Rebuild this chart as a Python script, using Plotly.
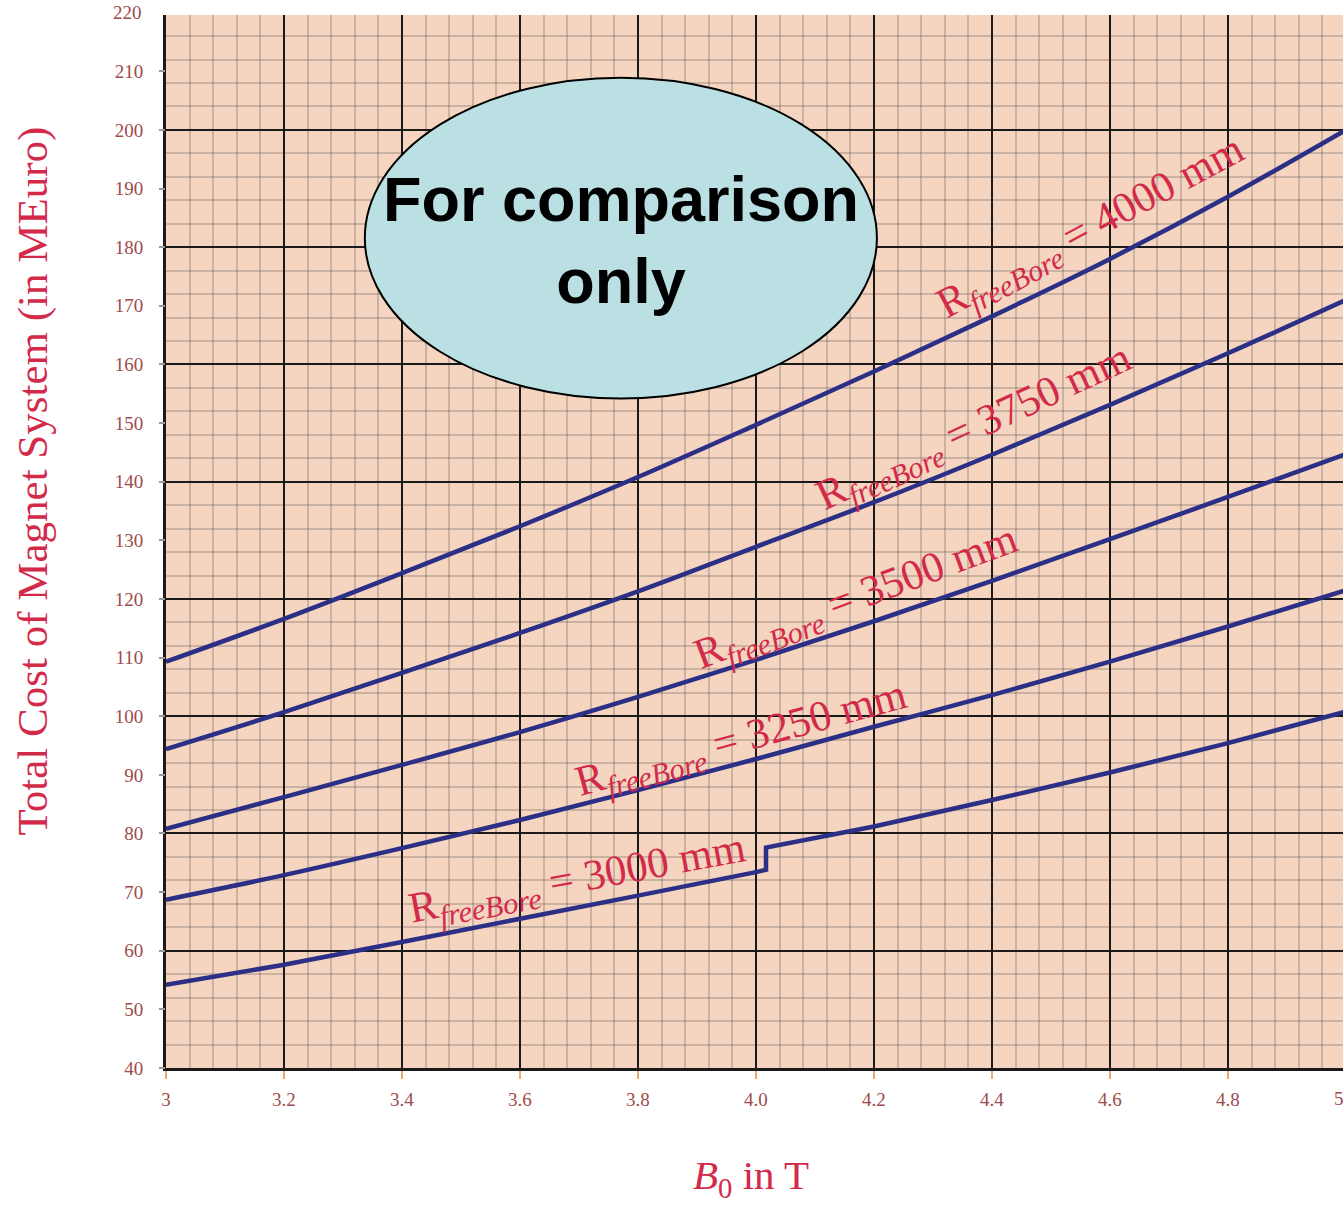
import plotly.graph_objects as go

# Magnetic field B0 (T) sample points
b0 = [3.0, 3.2, 3.4, 3.6, 3.8, 4.0, 4.2, 4.4, 4.6, 4.8, 5.0]

# Total cost of the magnet system (MEuro) per free-bore radius
cost_4000 = [109.3, 116.6, 124.4, 132.4, 140.8, 149.7, 158.8, 168.2, 178.0, 188.6, 200.0]
cost_3750 = [94.4, 100.7, 107.4, 114.2, 121.3, 128.9, 136.5, 144.6, 153.1, 161.9, 171.0]
cost_3500 = [80.8, 86.2, 91.7, 97.3, 103.3, 109.6, 116.2, 123.1, 130.2, 137.4, 144.7]
cost_3250 = [68.7, 72.9, 77.5, 82.3, 87.4, 92.7, 98.2, 103.6, 109.3, 115.3, 121.5]

# The 3000 mm curve has a step just above 4 T
b0_3000 = [3.0, 3.2, 3.4, 3.6, 3.8, 4.0, 4.017, 4.017, 4.2, 4.4, 4.6, 4.8, 5.0]
cost_3000 = [54.2, 57.6, 61.5, 65.4, 69.4, 73.4, 73.8, 77.6, 81.2, 85.7, 90.4, 95.4, 100.8]

# Curve labels: radius, anchor position and text angle
label_radius = [3000, 3250, 3500, 3750, 4000]
label_x = [3.697, 3.975, 4.171, 4.371, 4.568]
label_y = [71.9, 95.8, 120.0, 149.0, 183.1]
label_angle = [-10.5, -15.2, -20.5, -24.8, -28.2]

# Axis ranges and ticks
X_RANGE = [3.0, 4.995]
Y_RANGE = [40, 219.6]
x_tickvals = [3.0, 3.2, 3.4, 3.6, 3.8, 4.0, 4.2, 4.4, 4.6, 4.8]
x_ticktext = ["3", "3.2", "3.4", "3.6", "3.8", "4.0", "4.2", "4.4", "4.6", "4.8"]
y_tickvals = list(range(40, 220, 10))

LINE = "#2B2F85"
CRIMSON = "#D42A4A"
MINOR_GRID = "rgba(95,85,85,0.28)"
TICKFONT = dict(family="Liberation Serif", size=19, color="#9E4B4B")

fig = go.Figure()

curves = [
    (b0, cost_4000),
    (b0, cost_3750),
    (b0, cost_3500),
    (b0, cost_3250),
]
for xs, ys in curves:
    fig.add_trace(go.Scatter(x=xs, y=ys, mode="lines", line_shape="spline",
                             line=dict(color=LINE, width=4.5), showlegend=False,
                             hoverinfo="skip"))
fig.add_trace(go.Scatter(x=b0_3000, y=cost_3000, mode="lines",
                         line=dict(color=LINE, width=4.5), showlegend=False,
                         hoverinfo="skip"))

# Tick-label axis for the y values every 10 MEuro
fig.add_trace(go.Scatter(x=[None], y=[None], yaxis="y2", showlegend=False,
                         hoverinfo="skip"))

for r, lx, ly, ang in zip(label_radius, label_x, label_y, label_angle):
    fig.add_annotation(
        x=lx, y=ly, xref="x", yref="y",
        text=f"R<sub><i>freeBore</i></sub> = {r} mm",
        textangle=ang, showarrow=False,
        font=dict(family="Liberation Serif", size=43, color=CRIMSON),
    )

# Ellipse badge
fig.add_shape(type="circle", xref="x", yref="y",
              x0=3.337, x1=4.205, y0=154.2, y1=208.9,
              fillcolor="#BAE0E3", line=dict(color="black", width=2), layer="above")
fig.add_annotation(x=3.771, y=181.3, xref="x", yref="y", showarrow=False,
                   text="<b>For comparison<br>only</b>",
                   font=dict(family="Liberation Sans", size=63, color="black"))

# Axis titles
fig.add_annotation(x=-0.113, y=0.558, xref="paper", yref="paper", showarrow=False,
                   xanchor="center", yanchor="middle",
                   text="Total Cost of Magnet System (in MEuro)", textangle=-90,
                   font=dict(family="Liberation Serif", size=43, color=CRIMSON))
fig.add_annotation(x=0.497, y=-0.104, xref="paper", yref="paper", showarrow=False,
                   xanchor="center", yanchor="middle",
                   text="<i>B</i><sub>0</sub> in T",
                   font=dict(family="Liberation Serif", size=41, color=CRIMSON))

# Edge labels sitting just outside the plotting area
x_edge = (5.0 - X_RANGE[0]) / (X_RANGE[1] - X_RANGE[0])
y_edge = (220 - Y_RANGE[0]) / (Y_RANGE[1] - Y_RANGE[0])
fig.add_annotation(x=x_edge, y=0, xref="paper", yref="paper", yshift=-30,
                   xanchor="center", yanchor="middle", showarrow=False,
                   text="5.0", font=TICKFONT)
fig.add_annotation(x=0, y=y_edge, xref="paper", yref="paper", xshift=-22,
                   xanchor="right", yanchor="middle",
                   showarrow=False, text="220", font=TICKFONT)

fig.update_layout(
    width=1343, height=1205,
    margin=dict(l=166, r=0, t=15, b=137),
    paper_bgcolor="white",
    plot_bgcolor="#F5D5C0",
    xaxis=dict(
        range=X_RANGE, tickvals=x_tickvals, ticktext=x_ticktext,
        showgrid=True, gridcolor="#1A1A1A", gridwidth=2,
        ticks="outside", ticklen=8, tickcolor="#F2A868", tickwidth=1.5,
        tickfont=TICKFONT, ticklabelstandoff=4,
        showline=True, linecolor="#1A1A1A", linewidth=3,
        zeroline=False,
        minor=dict(dtick=0.04, tick0=3.0, showgrid=True,
                   gridcolor=MINOR_GRID, gridwidth=2, ticks=""),
    ),
    yaxis=dict(
        range=Y_RANGE, dtick=20, tick0=40,
        showgrid=True, gridcolor="#1A1A1A", gridwidth=2,
        showticklabels=False, ticks="",
        showline=True, linecolor="#1A1A1A", linewidth=3,
        zeroline=False,
        minor=dict(dtick=4, tick0=40, showgrid=True,
                   gridcolor=MINOR_GRID, gridwidth=2, ticks=""),
    ),
    yaxis2=dict(
        range=Y_RANGE, overlaying="y", side="left",
        tickvals=y_tickvals, showgrid=False, zeroline=False,
        ticks="outside", ticklen=6, tickcolor="#999999", tickwidth=1.5,
        tickfont=TICKFONT, ticklabelstandoff=12,
    ),
)

fig.write_html("out.html")
